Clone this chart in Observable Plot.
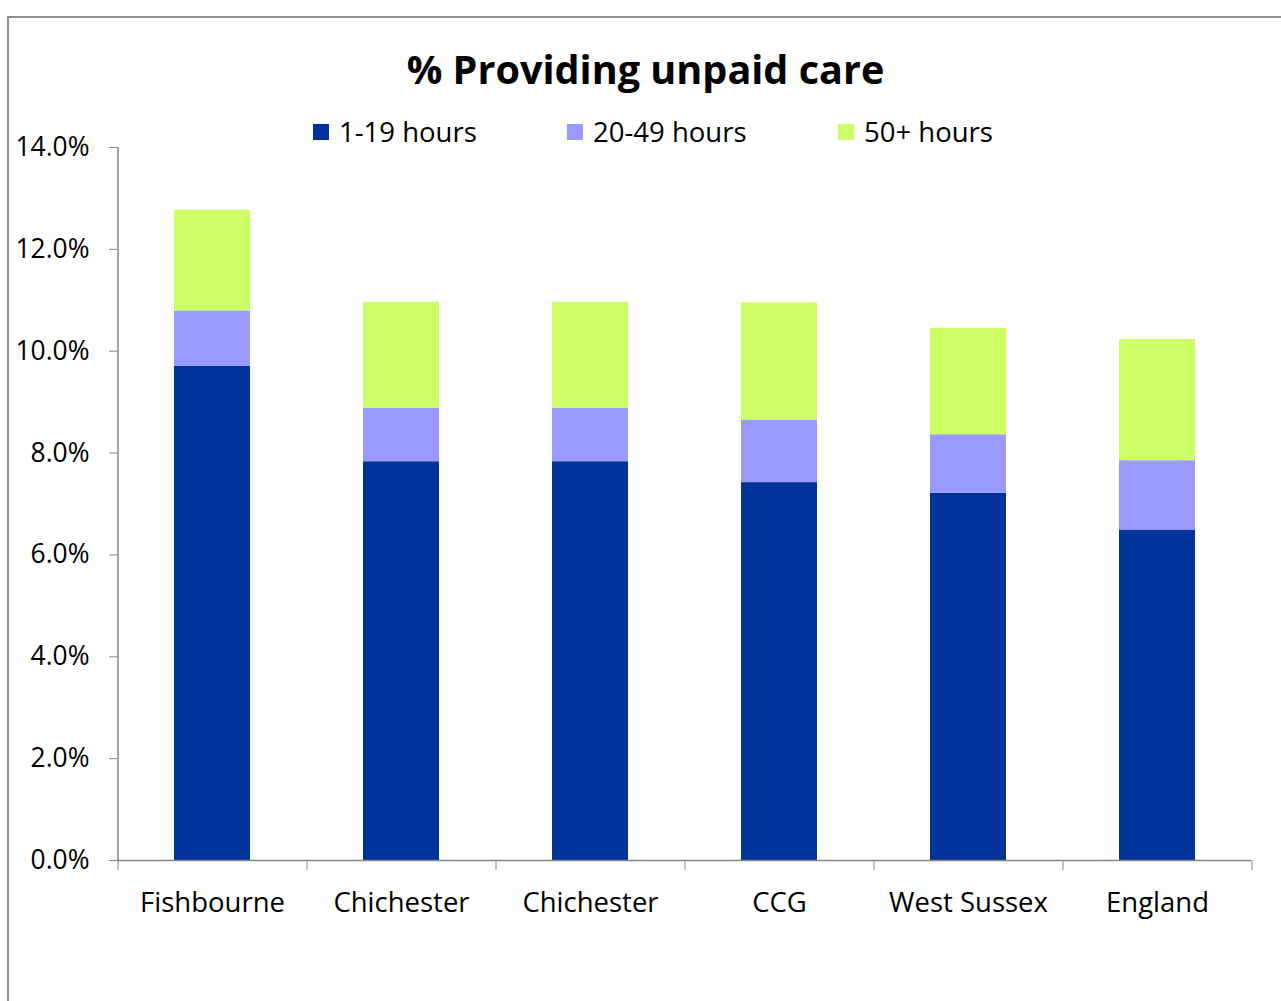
<!DOCTYPE html>
<html>
<head>
<meta charset="utf-8">
<script src="https://cdn.jsdelivr.net/npm/d3@7"></script>
<script src="https://cdn.jsdelivr.net/npm/@observablehq/plot@0.6"></script>
<style>
  html, body { margin: 0; padding: 0; background: #fff; }
  body { width: 1281px; height: 1001px; overflow: hidden; position: relative; font-family: "Open Sans", sans-serif; }
  #frame { position: absolute; left: 7px; top: 16px; width: 1400px; height: 1100px; border: 2px solid #8e8e8e; box-sizing: border-box; }
  #chart { position: absolute; left: 0; top: 0; }
  #title { position: absolute; left: 0; width: 1291px; top: 50px; text-align: center; font-weight: bold; font-size: 39.6px; line-height: 1; color: #000; }
  .leg { position: absolute; top: 118px; font-size: 27.5px; line-height: 1; color: #000; white-space: nowrap; }
  .sw { position: absolute; width: 16px; height: 16px; top: 124px; }
</style>
</head>
<body>
<div id="frame"></div>
<div id="chart"></div>
<div id="title">% Providing unpaid care</div>
<div id="legend"></div>
<script>
// ---- data ----
const categories = ["Fishbourne", "Chichester", "Chichester", "CCG", "West Sussex", "England"];
const seriesNames = ["1-19 hours", "20-49 hours", "50+ hours"];
const hours1to19 = [9.70, 7.83, 7.83, 7.42, 7.21, 6.49];
const hours20to49 = [1.09, 1.05, 1.05, 1.22, 1.15, 1.36];
const hours50plus = [1.98, 2.08, 2.08, 2.31, 2.09, 2.38];
const yTicks = [0, 2, 4, 6, 8, 10, 12, 14];
const colors = ["#003399", "#9999FF", "#CCFF66"];

const seriesValues = [hours1to19, hours20to49, hours50plus];
const data = [];
categories.forEach((c, i) => {
  seriesNames.forEach((s, k) => data.push({i, category: c, series: s, value: seriesValues[k][i]}));
});

const W = 1281, H = 1001, mL = 117, mR = 30, mT = 147, mB = 141;
const idx = d3.range(categories.length);
const step = (W - mL - mR) / categories.length;
const gray = "#868686";

const chart = Plot.plot({
  width: W, height: H,
  marginLeft: mL, marginRight: mR, marginTop: mT, marginBottom: mB,
  style: {fontFamily: "'Open Sans', sans-serif", background: "transparent", color: "#000"},
  x: {type: "band", domain: idx, paddingInner: 0.6, paddingOuter: 0.3, axis: null},
  y: {domain: [0, 14], axis: null},
  color: {domain: seriesNames, range: colors},
  marks: [
    Plot.barY(data, {x: "i", y: "value", fill: "series"}),
    Plot.ruleY([0], {stroke: gray, strokeWidth: 1.5}),
    Plot.ruleX([0], {x: d => d, y1: 0, y2: 14, dx: -step / 2, stroke: gray, strokeWidth: 1.5}),
    Plot.axisY(yTicks, {tickSize: 8, tickPadding: 20, tickFormat: d => d.toFixed(1) + "%", fontSize: 26.4, stroke: gray, fill: "#000", label: null}),
    Plot.axisX(idx, {tickSize: 10, dx: -step / 2, tickFormat: () => "", stroke: gray, label: null}),
    Plot.axisX([idx[idx.length - 1]], {tickSize: 10, dx: step / 2, tickFormat: () => "", stroke: gray, label: null}),
    Plot.axisX(idx, {tickSize: 0, tickPadding: 32, tickFormat: i => categories[i], fontSize: 27.5, fill: "#000", label: null})
  ]
});
document.getElementById("chart").appendChild(chart);

// legend
const legendX = [313, 567, 838];
const legend = document.getElementById("legend");
seriesNames.forEach((s, k) => {
  const sw = document.createElement("div");
  sw.className = "sw";
  sw.style.left = legendX[k] + "px";
  sw.style.background = colors[k];
  legend.appendChild(sw);
  const t = document.createElement("div");
  t.className = "leg";
  t.style.left = (legendX[k] + 26) + "px";
  t.textContent = s;
  legend.appendChild(t);
});
</script>
</body>
</html>
